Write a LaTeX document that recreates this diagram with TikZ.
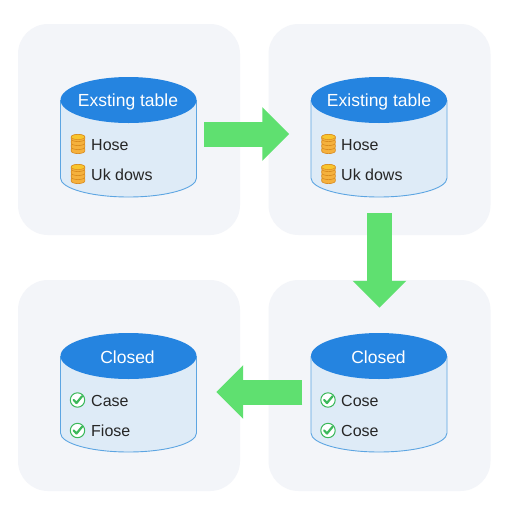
\documentclass[tikz,border=0pt]{standalone}
\usepackage{fontspec}
\setmainfont{Liberation Sans}
\usetikzlibrary{arrows.meta}
\definecolor{cardbg}{HTML}{F3F5F9}
\definecolor{capblue}{HTML}{2584E0}
\definecolor{bodyblue}{HTML}{DEEBF7}
\definecolor{edgeblue}{HTML}{5CA5E2}
\definecolor{arrowgreen}{HTML}{5FE070}
\definecolor{coinfill}{HTML}{F5B13D}
\definecolor{coinedge}{HTML}{D98A1E}
\definecolor{tickgreen}{HTML}{3CB95A}
\tikzset{
  x=1pt,y=-1pt,
  card/.style={fill=cardbg,rounded corners=30pt,minimum width=222pt,minimum height=211pt,inner sep=0pt},
  flow/.style={draw=arrowgreen,line width=25pt,-{Triangle[length=27pt,width=52pt,fill=arrowgreen]}},
  captext/.style={text=white,font=\fontsize{17.5}{19}\selectfont,inner sep=0pt},
  rowtext/.style={text=black!85,font=\fontsize{16}{18}\selectfont,anchor=west,inner sep=0pt},
  pics/db/.style args={#1}{code={
    \fill[bodyblue] (-68,0) -- (-68,#1) arc[start angle=180,end angle=0,x radius=68,y radius=19] -- (68,0) -- cycle;
    \draw[edgeblue,line width=.9pt] (-68,0) -- (-68,#1) arc[start angle=180,end angle=0,x radius=68,y radius=19] -- (68,0);
    \fill[capblue] (0,0) ellipse[x radius=68,y radius=23];
  }},
  pics/coins/.style={code={
    \foreach \yy in {5.5,1.5,-2.5,-6.5}{
      \fill[coinfill,draw=coinedge,line width=.6pt] (-6.8,\yy) -- (-6.8,\yy+2) arc[start angle=180,end angle=0,x radius=6.8,y radius=2.6] -- (6.8,\yy)
        arc[start angle=0,end angle=-180,x radius=6.8,y radius=2.6] -- cycle;
    }
    \fill[coinfill!75!yellow,draw=coinedge,line width=.5pt] (0,-6.5) ellipse[x radius=6.8,y radius=2.6];
  }},
  pics/okmark/.style={code={
    \draw[tickgreen,fill=white,line width=1pt] (0,0) circle[radius=7.2];
    \draw[tickgreen,line width=2.2pt,line cap=round,line join=round] (-3.8,0) -- (-1,3) -- (4.6,-3.8);
  }}
}
\begin{document}
\begin{tikzpicture}
\useasboundingbox (0,0) rectangle (512,512);
\fill[white] (0,0) rectangle (512,512);
\node[card] (cardA) at (129,129.5) {};
\node[card] (cardB) at (379.5,129.5) {};
\node[card] (cardC) at (129,385.5) {};
\node[card] (cardD) at (379.5,385.5) {};
% cylinders
\pic at (128.5,100) {db={78}};
\pic at (379,100) {db={78}};
\pic at (128.5,356) {db={77}};
\pic at (379,356) {db={77}};
\node[captext] (capA) at (128,101.5) {Exsting table};
\node[captext] (capB) at (379,101.5) {Existing table};
\node[captext] (capC) at (127.5,357.5) {Closed};
\node[captext] (capD) at (378.5,357.5) {Closed};
% rows
\pic at (78,143.5) {coins};
\pic at (78,173.5) {coins};
\pic at (328.5,143.5) {coins};
\pic at (328.5,173.5) {coins};
\node[rowtext] (a1) at (91,145) {Hose};
\node[rowtext] (a2) at (91,174.5) {Uk dows};
\node[rowtext] (b1) at (341,145) {Hose};
\node[rowtext] (b2) at (341,174.5) {Uk dows};
\pic at (77.5,400) {okmark};
\pic at (77.5,430.5) {okmark};
\pic at (328,400) {okmark};
\pic at (328,430.5) {okmark};
\node[rowtext] (c1) at (91,401) {Case};
\node[rowtext] (c2) at (91,431) {Fiose};
\node[rowtext] (d1) at (341,401) {Cose};
\node[rowtext] (d2) at (341,431) {Cose};
% connectors
\draw[flow,shorten <=-36pt,shorten >=-21pt] ([yshift=-4.5pt]cardA.east) -- ([yshift=-4.5pt]cardB.west);
\draw[flow,shorten <=-22pt,shorten >=-28pt] (cardB.south) -- (cardD.north);
\draw[flow,shorten <=-34pt,shorten >=-24pt] ([yshift=-6.5pt]cardD.west) -- ([yshift=-6.5pt]cardC.east);
\end{tikzpicture}
\end{document}
